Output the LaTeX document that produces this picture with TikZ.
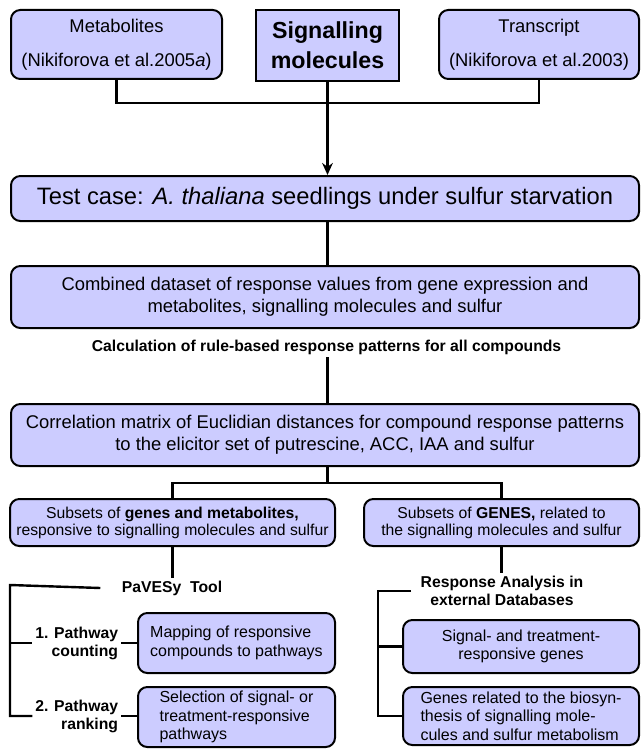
\documentclass[tikz,border=0pt]{standalone}
\usepackage{fontspec}
\setmainfont{Liberation Sans}
\usetikzlibrary{arrows.meta}
\definecolor{boxfill}{RGB}{204,204,255}

\begin{document}
\begin{tikzpicture}[
        x=0.75pt, y=-0.75pt,
        box/.style={draw, fill=boxfill, line width=1.5pt, rounded corners=7pt, inner sep=0pt, align=center},
        source/.style={box, minimum height=51.75pt, font=\fontsize{13.8}{25.5}\selectfont},
        signal/.style={draw, fill=boxfill, line width=1.5pt, inner sep=0pt, align=center,
            minimum width=107.25pt, minimum height=53.25pt, font=\bfseries\fontsize{17.4}{22.5}\selectfont},
        stage/.style={box, minimum width=471pt, font=\fontsize{13.8}{16.5}\selectfont},
        subset/.style={box, minimum height=35.25pt, font=\fontsize{11.8}{12.75}\selectfont},
        result/.style={box, minimum width=147.75pt, font=\fontsize{12}{13.8}\selectfont},
        note/.style={inner sep=2pt, align=center, font=\bfseries\fontsize{11.8}{13.5}\selectfont},
        link/.style={line width=1.8pt},
        feed/.style={line width=2.2pt, -{Stealth[length=9pt, width=8pt]}}
    ]
        \useasboundingbox (0,0) rectangle (641,749);
        % data sources
        \node[source, minimum width=158.25pt] (met) at (116.5,44.5) {Metabolites\\(Nikiforova et al.2005\textit{a})};
        \node[signal] (sig) at (327.5,45.5) {Signalling\\molecules};
        \node[source, minimum width=150pt] (trans) at (539,44.5) {Transcript\\(Nikiforova et al.2003)};
        % main steps
        \node[stage, minimum height=33.75pt, font=\fontsize{17.8}{21}\selectfont] (test) at (325,198.5)
            {Test case: \textit{A. thaliana} seedlings under sulfur starvation};
        \node[stage, minimum height=46.5pt] (comb) at (325,297)
            {Combined dataset of response values from gene expression and\\metabolites, signalling molecules and sulfur};
        \node[note] (calc) at (326.5,347) {Calculation of rule-based response patterns for all compounds};
        \node[stage, minimum height=46.5pt] (corr) at (325,435)
            {Correlation matrix of Euclidian distances for compound response patterns\\to the elicitor set of putrescine, ACC, IAA and sulfur};
        \node[subset, minimum width=243.75pt] (lset) at (172.5,522.5)
            {Subsets of \textbf{genes and metabolites,}\\responsive to signalling molecules and sulfur};
        \node[subset, minimum width=206.25pt] (rset) at (501.5,522.5)
            {Subsets of \textbf{GENES,} related to\\the signalling molecules and sulfur};
        % PaVESy branch
        \node[note] (pavesy) at (172,588) {PaVESy~~Tool};
        \node[note, align=right, anchor=east] (step1) at (121,643) {1. Pathway\\counting};
        \node[note, align=right, anchor=east] (step2) at (121,716) {2. Pathway\\ranking};
        \node[result, minimum height=45pt, align=left] (map) at (236.5,643) {Mapping of responsive\\compounds to pathways};
        \node[result, minimum height=45pt, align=left] (sel) at (236.5,717) {Selection of signal- or\\treatment-responsive\\pathways};
        % database branch
        \node[note] (resp) at (502,591) {Response Analysis in\\external Databases};
        \node[result, minimum width=177pt, minimum height=39.75pt] (sgn) at (521,646.5) {Signal- and treatment-\\responsive genes};
        \node[result, minimum width=177pt, minimum height=43.5pt, align=left] (gen) at (521,716)
            {Genes related to the biosyn-\\thesis of signalling mole-\\cules and sulfur metabolism};
        % connectors
        \draw[link] (met.south) -- ++(0,23) -| (trans.south);
        \draw[feed] (sig.south) -- (sig.south |- test.north);
        \draw[link] (test.south -| sig.south) -- (comb.north -| sig.south);
        \draw[link] (calc.south -| sig.south) -- (corr.north -| sig.south);
        \draw[link] (corr.south -| sig.south) -- ++(0,16) coordinate (split);
        \draw[link] (lset.north) |- (split) -| (rset.north);
        \draw[link] (lset.south) -- (lset.south |- pavesy.north);
        \draw[link] (rset.south) -- (rset.south |- resp.north);
        \coordinate (lbar) at (10,585);
        \draw[link] ([xshift=-14pt]pavesy.west) -- (lbar) |- (step2.west);
        \draw[link] (lbar) |- (step1.west);
        \draw[link] (step1.east) -- (step1.east -| map.west);
        \draw[link] (step2.east) -- (step2.east -| sel.west);
        \coordinate (rbar) at (378,591);
        \draw[link] ([xshift=-5pt]resp.west) -- (rbar) |- (gen.west);
        \draw[link] (rbar) |- (sgn.west);
    \end{tikzpicture}
\end{document}
